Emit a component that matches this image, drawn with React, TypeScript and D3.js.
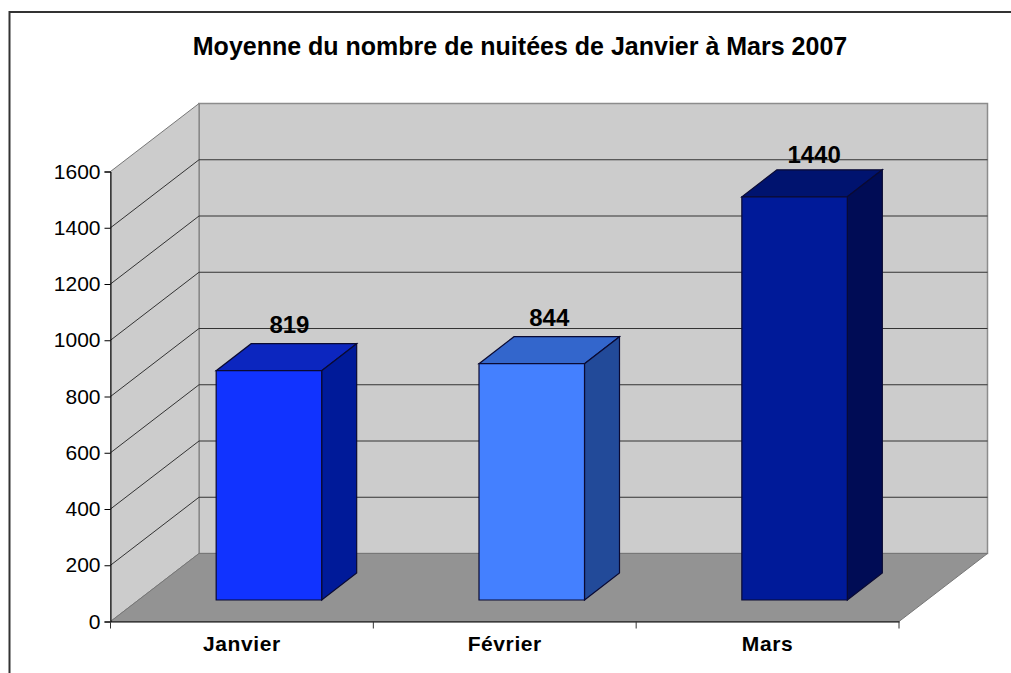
import React, { useEffect, useRef } from "react";
import * as d3 from "d3";

const title = "Moyenne du nombre de nuitées de Janvier à Mars 2007";
const categories = ["Janvier", "Février", "Mars"];
const values = [819, 844, 1440];
const yTicks = [0, 200, 400, 600, 800, 1000, 1200, 1400, 1600];
const frontColors = ["#1133ff", "#4480ff", "#001a99"];
const topColors = ["#0c26bf", "#3366cc", "#00136f"];
const sideColors = ["#001a99", "#224a99", "#000c55"];

const width = 1011;
const height = 673;
const fontFamily = "'Liberation Sans', Arial, sans-serif";

// oblique depth of the box, in px
const depthX = 88.5;
const depthY = -68;

export default function App() {
  const ref = useRef<SVGSVGElement>(null);

  useEffect(() => {
    const svg = d3.select(ref.current);
    svg.selectAll("*").remove();

    const x = d3.scaleBand().domain(categories).range([110.5, 899]);
    const y = d3.scaleLinear().domain([0, 1600]).range([621.5, 171.5]);
    // bars stand a bit deeper in the box, so their own scale is slightly shorter
    const barY = d3.scaleLinear().domain([0, 1600]).range([600, 152]);

    const x0 = x.range()[0];
    const x1 = x.range()[1];
    const line = d3.line();
    const poly = (pts: [number, number][]) => line(pts) + "Z";

    // frame, only its top and left edges are inside the picture
    svg.append("path")
      .attr("d", line([[9.5, height], [9.5, 12], [width, 12]]))
      .attr("fill", "none")
      .attr("stroke", "#333").attr("stroke-width", 2);

    svg.append("text")
      .attr("x", 520).attr("y", 55)
      .attr("text-anchor", "middle")
      .attr("font-family", fontFamily)
      .attr("font-size", 25)
      .attr("font-weight", "bold")
      .text(title);

    // back wall
    svg.append("rect")
      .attr("x", x0 + depthX).attr("y", y(1600) + depthY)
      .attr("width", x1 - x0).attr("height", y(0) - y(1600))
      .attr("fill", "#ccc").attr("stroke", "#8c8c8c").attr("stroke-width", 1.5);

    // side wall
    svg.append("path")
      .attr("d", poly([
        [x0, y(0)], [x0, y(1600)],
        [x0 + depthX, y(1600) + depthY], [x0 + depthX, y(0) + depthY],
      ]))
      .attr("fill", "#ccc").attr("stroke", "#777");

    // floor
    svg.append("path")
      .attr("d", poly([
        [x0, y(0)], [x1, y(0)],
        [x1 + depthX, y(0) + depthY], [x0 + depthX, y(0) + depthY],
      ]))
      .attr("fill", "#939393").attr("stroke", "#777");

    // gridlines on both walls
    svg.append("g").selectAll("path")
      .data(yTicks.slice(1, -1))
      .enter().append("path")
      .attr("d", (t) => line([
        [x0, y(t)],
        [x0 + depthX, y(t) + depthY],
        [x1 + depthX, y(t) + depthY],
      ]))
      .attr("fill", "none").attr("stroke", "#333").attr("stroke-width", 1);

    // bars
    const bw = 105.5;
    const offX = 27;
    const sideX = 35;
    const sideY = -27;
    const labelShift = [[20.5, -38], [17.5, -38], [19.5, -34]];
    categories.forEach((c, i) => {
      const l = x(c)! + x.bandwidth() / 2 + offX - bw / 2;
      const r = l + bw;
      const t = barY(values[i]);
      const b = barY(0);
      const g = svg.append("g").attr("stroke", "#0a0a33").attr("stroke-width", 1.2);
      g.append("path")
        .attr("d", poly([[l, t], [r, t], [r + sideX, t + sideY], [l + sideX, t + sideY]]))
        .attr("fill", topColors[i]);
      g.append("path")
        .attr("d", poly([[r, t], [r + sideX, t + sideY], [r + sideX, b + sideY], [r, b]]))
        .attr("fill", sideColors[i]);
      g.append("path")
        .attr("d", poly([[l, t], [r, t], [r, b], [l, b]]))
        .attr("fill", frontColors[i]);
      svg.append("text")
        .attr("x", (l + r) / 2 + labelShift[i][0])
        .attr("y", t + labelShift[i][1])
        .attr("text-anchor", "middle")
        .attr("font-family", fontFamily)
        .attr("font-size", 24)
        .attr("font-weight", "bold")
        .text(values[i]);
    });

    // y axis
    const yAxis = svg.append("g")
      .attr("transform", `translate(${x0},0)`)
      .call(d3.axisLeft(y).tickValues(yTicks).tickSize(6).tickPadding(4).tickFormat(d3.format("d")));
    yAxis.selectAll("text")
      .attr("font-family", fontFamily).attr("font-size", 21).attr("fill", "#000");

    // x axis, labels sit in the band middle
    const xAxis = svg.append("g")
      .attr("transform", `translate(0,${y(0)})`)
      .call(d3.axisBottom(x).tickSize(0).tickPadding(15));
    xAxis.selectAll("text")
      .attr("font-family", fontFamily).attr("font-size", 21)
      .attr("font-weight", "bold").attr("fill", "#000").attr("letter-spacing", 0.6);

    // x ticks fall on the band edges
    svg.append("g").selectAll("line")
      .data(categories.concat(""))
      .enter().append("line")
      .attr("x1", (c, i) => x0 + i * x.step())
      .attr("x2", (c, i) => x0 + i * x.step())
      .attr("y1", y(0)).attr("y2", y(0) + 7)
      .attr("stroke", "#333");
  }, []);

  return (
    <svg
      ref={ref}
      width={width}
      height={height}
      style={{ position: "absolute", left: 0, top: 0, background: "#fff" }}
    />
  );
}
